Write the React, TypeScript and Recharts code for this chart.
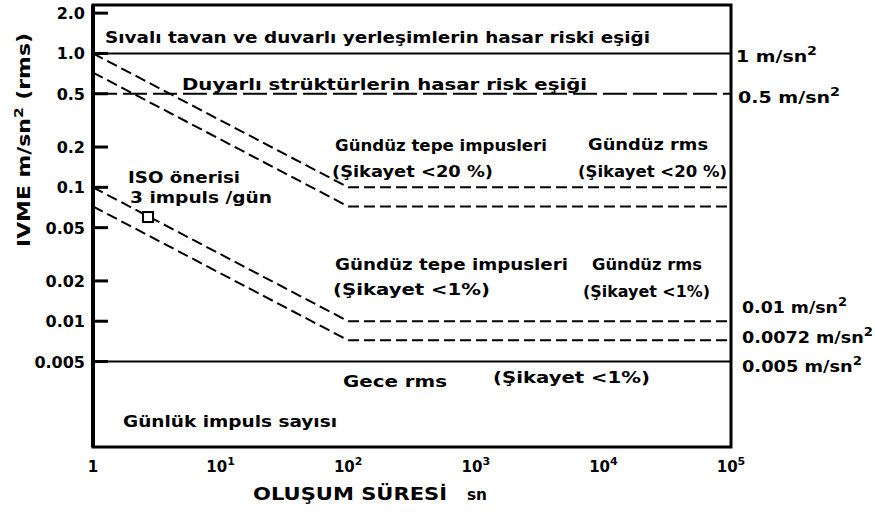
import React from 'react';
import { ComposedChart, Line, Scatter, XAxis, YAxis, ReferenceLine, ReferenceArea } from 'recharts';

// süre (s): başlangıç, kırılma ve bitiş noktaları
const durations = [1, 100, 100000];
const peakDay20 = [1.0, 0.1, 0.1];
const rmsDay20 = [0.72, 0.072, 0.072];
const peakDay1 = [0.1, 0.01, 0.01];
const rmsDay1 = [0.072, 0.0072, 0.0072];

const plasterLimit = 1.0;
const structureLimit = 0.5;
const nightRms = 0.005;

const isoX = [2.7];
const isoY = [0.06];

const xTicks = [1, 10, 100, 1000, 10000, 100000];
const xExponents = ['', '1', '2', '3', '4', '5'];
const yTicks = [2, 1, 0.5, 0.2, 0.1, 0.05, 0.02, 0.01, 0.005];
const yTickLabels = ['2.0', '1.0', '0.5', '0.2', '0.1', '0.05', '0.02', '0.01', '0.005'];
const rightTicks = [1, 0.5, 0.01, 0.0072, 0.005];
const rightTickLabels = ['1', '0.5', '0.01', '0.0072', '0.005'];

const Y_DOMAIN: [number, number] = [0.00115, 2.3];
const FONT = '"DejaVu Sans", sans-serif';
const DASH = '11 5';

// label nudges so the right-hand labels don't collide: dx, dy, width
const RIGHT_LABEL_BOX = [
  [0, 9, 81],
  [2, 9, 102],
  [6, -8, 105],
  [6, 3, 131],
  [6, 10, 120],
];

const toSeries = (ys: number[]) => durations.map((x, i) => ({ x, y: ys[i] }));
const isoData = isoX.map((x, i) => ({ x, y: isoY[i] }));

const XTick = ({ x, y, index }: any) => {
  const exp = xExponents[index] ?? '';
  return (
    <text x={x} y={y + 25} textAnchor="middle" fontSize={15} fontWeight="bold" fontFamily={FONT} fill="#000">
      {exp ? '10' : '1'}
      {exp && (
        <tspan dy={-7} fontSize={11}>
          {exp}
        </tspan>
      )}
    </text>
  );
};

// label left of the frame, short tick mark pointing into the plot
const LeftTick = ({ x, y, payload }: any) => {
  const i = yTicks.indexOf(payload.value);
  return (
    <g>
      <line x1={x + 8} x2={x + 23} y1={y} y2={y} stroke="#000" strokeWidth={3} />
      <text x={x} y={y + 6} textAnchor="end" fontSize={16} fontWeight="bold" fontFamily={FONT} fill="#000">
        {yTickLabels[i]}
      </text>
    </g>
  );
};

const RightTick = ({ x, y, payload }: any) => {
  const i = rightTicks.indexOf(payload.value);
  const [dx, dy, w] = RIGHT_LABEL_BOX[i] || [0, 0, 80];
  return (
    <text
      x={x + dx}
      y={y + dy}
      textLength={w}
      lengthAdjust="spacingAndGlyphs"
      fontSize={16}
      fontWeight="bold"
      fontFamily={FONT}
      fill="#000"
    >
      {rightTickLabels[i]} m/sn
      <tspan dy={-7} fontSize={12}>
        2
      </tspan>
    </text>
  );
};

const IsoSquare = ({ cx, cy }: any) => (
  <rect x={cx - 5} y={cy - 5} width={10} height={10} fill="#fff" stroke="#000" strokeWidth={2} />
);

const Note = ({ x, y, w, size = 16, children }: any) => (
  <text
    x={x}
    y={y}
    textLength={w}
    lengthAdjust="spacingAndGlyphs"
    fontSize={size}
    fontWeight="bold"
    fontFamily={FONT}
    fill="#000"
  >
    {children}
  </text>
);

export default function App() {
  return (
    <div style={{ position: 'relative', width: 875, height: 512, background: '#fff' }}>
      <style>{`body{margin:0}`}</style>
      <ComposedChart width={875} height={512} margin={{ top: 5, right: 4, bottom: 0, left: 0 }}>
        <XAxis
          type="number"
          dataKey="x"
          scale="log"
          domain={[1, 100000]}
          ticks={xTicks}
          allowDataOverflow
          height={65}
          axisLine={false}
          tickLine={false}
          tickSize={0}
          tickMargin={0}
          tick={<XTick />}
          interval={0}
        />
        <YAxis
          type="number"
          dataKey="y"
          scale="log"
          domain={Y_DOMAIN}
          ticks={yTicks}
          allowDataOverflow
          width={93}
          axisLine={{ stroke: '#000', strokeWidth: 4 }}
          tickLine={false}
          tickSize={0}
          tickMargin={8}
          tick={<LeftTick />}
          interval={0}
        />
        <YAxis
          yAxisId="right"
          orientation="right"
          type="number"
          scale="log"
          domain={Y_DOMAIN}
          ticks={rightTicks}
          allowDataOverflow
          width={140}
          axisLine={false}
          tickLine={false}
          tickSize={0}
          tickMargin={5}
          tick={<RightTick />}
          interval={0}
        />
        <ReferenceArea x1={1} x2={100000} y1={Y_DOMAIN[0]} y2={Y_DOMAIN[1]} fill="none" stroke="#000" strokeWidth={3} />
        <ReferenceLine y={plasterLimit} stroke="#000" strokeWidth={2} />
        <ReferenceLine y={structureLimit} stroke="#000" strokeWidth={2} strokeDasharray="24 6" />
        <ReferenceLine y={nightRms} stroke="#000" strokeWidth={2} />
        <Line data={toSeries(peakDay20)} dataKey="y" type="linear" stroke="#000" strokeWidth={2} strokeDasharray={DASH} dot={false} isAnimationActive={false} />
        <Line data={toSeries(rmsDay20)} dataKey="y" type="linear" stroke="#000" strokeWidth={2} strokeDasharray={DASH} dot={false} isAnimationActive={false} />
        <Line data={toSeries(peakDay1)} dataKey="y" type="linear" stroke="#000" strokeWidth={2} strokeDasharray={DASH} dot={false} isAnimationActive={false} />
        <Line data={toSeries(rmsDay1)} dataKey="y" type="linear" stroke="#000" strokeWidth={2} strokeDasharray={DASH} dot={false} isAnimationActive={false} />
        <Scatter data={isoData} dataKey="y" shape={<IsoSquare />} isAnimationActive={false} />
      </ComposedChart>
      <svg width={875} height={512} style={{ position: 'absolute', left: 0, top: 0, pointerEvents: 'none' }}>
        <Note x={105} y={43} w={545}>Sıvalı tavan ve duvarlı yerleşimlerin hasar riski eşiği</Note>
        <Note x={182} y={90} w={405}>Duyarlı strüktürlerin hasar risk eşiği</Note>
        <Note x={335} y={151} w={212}>Gündüz tepe impusleri</Note>
        <Note x={332} y={177} w={161}>(Şikayet &lt;20 %)</Note>
        <Note x={588} y={150} w={120}>Gündüz rms</Note>
        <Note x={578} y={177} w={149}>(Şikayet &lt;20 %)</Note>
        <Note x={128} y={183} w={112}>ISO önerisi</Note>
        <Note x={130} y={203} w={142}>3 impuls /gün</Note>
        <Note x={335} y={270} w={233}>Gündüz tepe impusleri</Note>
        <Note x={333} y={295} w={157}>(Şikayet &lt;1%)</Note>
        <Note x={592} y={270} w={110}>Gündüz rms</Note>
        <Note x={583} y={297} w={127}>(Şikayet &lt;1%)</Note>
        <Note x={343} y={387} w={104}>Gece rms</Note>
        <Note x={493} y={383} w={157}>(Şikayet &lt;1%)</Note>
        <Note x={123} y={427} w={214}>Günlük impuls sayısı</Note>
        <Note x={253} y={500} w={194} size={17}>OLUŞUM SÜRESİ</Note>
        <Note x={467} y={500} w={20}>sn</Note>
        <text
          transform="translate(30,140) rotate(-90)"
          textAnchor="middle"
          textLength={214}
          lengthAdjust="spacingAndGlyphs"
          fontSize={17}
          fontWeight="bold"
          fontFamily={FONT}
          fill="#000"
        >
          IVME  m/sn
          <tspan dy={-7} fontSize={12}>
            2
          </tspan>
          <tspan dy={7}> (rms)</tspan>
        </text>
      </svg>
    </div>
  );
}
